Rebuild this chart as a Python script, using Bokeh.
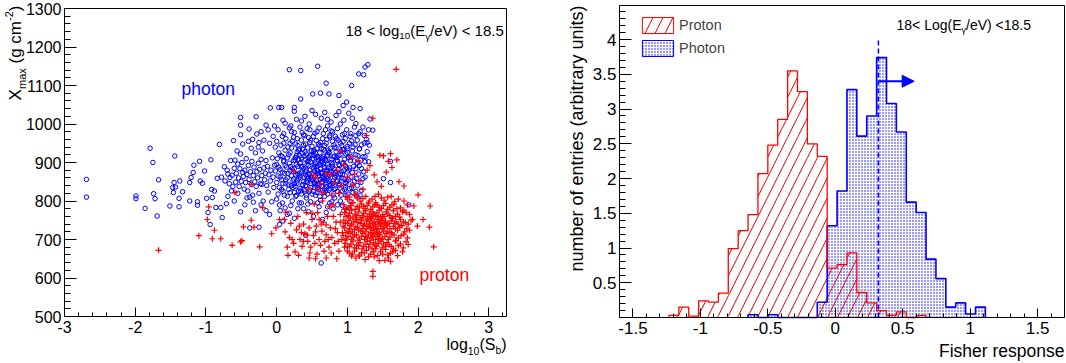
from math import pi
from bokeh.plotting import figure
from bokeh.models import (Label, FixedTicker, Legend, LegendItem, Arrow, NormalHead,
                          Range1d, CustomJSTickFormatter, LinearAxis)
from bokeh.layouts import row
from bokeh.embed import file_html
from bokeh.resources import INLINE

FONT = "Liberation Sans"

# ---------------- left panel data: photon / proton events ----------------
photon_log10Sb = [
    -2.69, -2.69, -1.99, -1.99, -1.79, -1.75, -1.74, -1.72, -1.67, -1.86,
    -1.69, -1.44, -1.47, -1.45, -1.43, -1.46, -1.51, -1.38, -1.38, -1.33,
    -1.37, -1.23, -1.23, -1.21, -1.18, -1.17, -1.12, -1.12, -1.09, -1.02,
    -1.05, -1.08, -0.99, -0.97, -0.94, -0.93, -0.92, -0.91, -0.88, -0.86,
    -0.84, -0.81, -0.79, -0.77, -0.74, -0.71, -0.69, -0.64, -0.61, -0.59,
    -0.51, -0.51, -0.51, -0.51, -0.51, -0.48, -0.39, -0.38, -0.36, -0.29,
    -0.28, -0.25, -0.38, -0.25, -0.21, -0.15, -0.09, -0.03, 0.03, 0.07,
    0.09, 0.18, 0.34, 0.58, 0.25, 0.25, 0.34, 0.51, 0.62, 0.70,
    0.74, 0.88, 1.06, 1.16, 1.23, 1.25, 1.29, 0.99, 0.94, 1.08,
    1.32, 1.36, 1.28, 1.51, 1.61, 1.61, 1.87, 0.63, 0.04, 0.41,
    0.09,
    -0.78, -0.73, -0.70, -0.67, -0.66, -0.63, -0.62, -0.60, -0.58, -0.57,
    -0.55, -0.54, -0.53, -0.52, -0.50, -0.49, -0.47, -0.46, -0.45, -0.44,
    -0.43, -0.42, -0.41, -0.40, -0.39, -0.37, -0.36, -0.35, -0.34, -0.33,
    -0.32, -0.31, -0.30, -0.29, -0.28, -0.27, -0.26, -0.25, -0.24, -0.23,
    -0.22, -0.21, -0.20, -0.19, -0.18, -0.17, -0.16, -0.15, -0.14, -0.13,
    -0.12, -0.11, -0.10, -0.09, -0.08, -0.07, -0.06, -0.05, -0.04, -0.03,
    -0.69, -0.60, -0.55, -0.45, -0.42, -0.33, -0.30, -0.22, -0.15, -0.10,
    -0.65, -0.56, -0.48, -0.40, -0.34, -0.26, -0.18, -0.12, -0.05, -0.22,
    0.12, 0.28, 0.40, 0.46, 0.55, 0.63, 0.68, 0.77, 0.84, 0.95, 1.02, 1.12, 0.20, 0.90,
    0.02, 0.10, 0.18, 0.25, 0.33, 0.38, 0.47, 0.52, 0.60, 0.66, 0.72, 0.79, 0.86, 0.93,
    0.99, 1.05, 1.10, 1.18, 1.24, 1.30,
    0.00, 0.06, 0.13, 0.19, 0.24, 0.30, 0.35, 0.41, 0.45, 0.50, 0.56, 0.61, 0.65, 0.70,
    0.75, 0.81, 0.87, 0.92, 0.97, 1.03, 1.08, 1.14, 1.20, 1.27,
    0.03, 0.08, 0.12, 0.17, 0.21, 0.26, 0.29, 0.33, 0.37, 0.42, 0.46, 0.49, 0.53, 0.57,
    0.61, 0.64, 0.68, 0.72, 0.76, 0.80, 0.84, 0.88, 0.93, 0.98, 1.02, 1.07, 1.12, 1.17,
    1.22, 1.28,
    0.00, 0.05, 0.10, 0.14, 0.18, 0.22, 0.26, 0.30, 0.34, 0.38, 0.41, 0.45, 0.48, 0.52,
    0.55, 0.59, 0.62, 0.66, 0.69, 0.73, 0.77, 0.81, 0.85, 0.89, 0.94, 0.99, 1.04, 1.09,
    1.14, 1.20, 1.25, 0.57, 0.64, 0.71,
    0.02, 0.07, 0.11, 0.15, 0.19, 0.23, 0.27, 0.31, 0.35, 0.39, 0.42, 0.46, 0.50, 0.53,
    0.56, 0.60, 0.63, 0.67, 0.70, 0.74, 0.78, 0.82, 0.86, 0.90, 0.95, 1.00, 1.05, 1.10,
    1.16, 1.22, 0.58, 0.65, 0.72, 0.48,
    0.04, 0.09, 0.13, 0.17, 0.21, 0.25, 0.29, 0.33, 0.37, 0.40, 0.44, 0.48, 0.52, 0.55,
    0.59, 0.63, 0.66, 0.70, 0.74, 0.78, 0.83, 0.88, 0.93, 0.98, 1.03, 1.08, 1.14, 1.20,
    0.60, 0.68,
    0.00, 0.08, 0.15, 0.22, 0.28, 0.35, 0.42, 0.48, 0.55, 0.62, 0.68, 0.75, 0.82, 0.90,
    0.98, 1.05, 1.15,
    0.05, 0.18, 0.30, 0.45, 0.52, 0.60, 0.70, 0.80, 0.95, 0.25, 0.65,
    0.35, 0.50, 0.72, 0.88, 1.07, 1.18,
    0.08, 0.21, 0.36, 0.43, 0.57, 0.69, 0.75, 0.83, 0.96, 1.12, 1.22,
    -0.02, 0.10, 0.16, 0.27, 0.32, 0.38, 0.47, 0.53, 0.59, 0.63, 0.68,
    0.73, 0.79, 0.84, 0.90, 0.95, 1.00, 1.06, 1.11, 1.17, 1.24, 1.31,
    0.01, 0.06, 0.10, 0.15, 0.19, 0.24, 0.28, 0.31, 0.35, 0.40, 0.44,
    0.47, 0.51, 0.55, 0.59, 0.62, 0.66, 0.70, 0.74, 0.78, 0.82, 0.86,
    0.91, 0.96, 1.00, 1.05, 1.10, 1.15, 1.19, 1.25, 1.30,
    -0.02, 0.03, 0.08, 0.12, 0.16, 0.20, 0.24, 0.28, 0.32, 0.36, 0.40,
    0.43, 0.47, 0.50, 0.54, 0.58, 0.61, 0.65, 0.68, 0.72, 0.75, 0.79,
    0.83, 0.87, 0.92, 0.97, 1.02, 1.07, 1.12, 1.17, 1.23,
    0.00, 0.05, 0.09, 0.13, 0.17, 0.21, 0.25, 0.29, 0.33, 0.37, 0.41,
    0.44, 0.48, 0.51, 0.55, 0.58, 0.62, 0.65, 0.69, 0.72, 0.76, 0.80,
    0.84, 0.88, 0.92, 0.97, 1.02, 1.07, 1.13, 1.19, 1.25,
    0.02, 0.07, 0.11, 0.19, 0.23, 0.27, 0.31, 0.35, 0.39, 0.42, 0.46,
    0.50, 0.54, 0.57, 0.61, 0.65, 0.72, 0.76, 0.80, 0.86, 0.91, 0.96,
    1.01, 1.06, 1.12, 1.18,
    0.04, 0.12, 0.20, 0.32, 0.38, 0.44, 0.58, 0.72, 0.78, 0.86, 0.93, 1.02, 0.15,
    0.31, 0.36, 0.44, 0.52, 0.58, 0.66, 0.74, 0.82, 0.91, 1.00,
    0.27, 0.33, 0.39, 0.45, 0.50, 0.56, 0.61, 0.67, 0.72, 0.79, 0.85, 0.93, 1.01,
    0.25, 0.30, 0.35, 0.42, 0.46, 0.53, 0.57, 0.63, 0.67, 0.71, 0.77, 0.81, 0.88, 0.95, 1.03,
    0.24, 0.32, 0.38, 0.43, 0.49, 0.54, 0.59, 0.64, 0.70, 0.75, 0.80, 0.87, 0.93, 0.99,
    0.26, 0.34, 0.41, 0.47, 0.53, 0.58, 0.64, 0.69, 0.75, 0.81, 0.89, 0.97,
    0.22, 0.29, 0.40, 0.48, 0.54, 0.62, 0.71, 0.77, 0.85, 0.94, 1.04, 1.16,
]
photon_Xmax = [
    856, 810, 813, 806, 937, 900, 819, 806, 855, 781,
    761, 917, 835, 848, 836, 822, 787, 807, 785, 824,
    852, 800, 848, 861, 874, 893, 798, 789, 903, 878,
    846, 852, 807, 770, 739, 907, 830, 809, 826, 783,
    859, 947, 783, 757, 889, 793, 870, 826, 957, 906,
    1017, 997, 972, 772, 922, 874, 987, 810, 937, 1019,
    974, 952, 730, 732, 843, 997, 1042, 995, 1043, 1043,
    1010, 1141, 1139, 1150, 1043, 1033, 1065, 1078, 1080, 1106,
    1078, 1074, 1100, 1130, 1128, 1148, 1154, 1057, 1048, 1043,
    1013, 984, 952, 858, 848, 903, 790, 639, 739, 711,
    748,
    862, 852, 880, 845, 861, 867, 838, 885, 849, 872,
    896, 860, 838, 884, 851, 900, 864, 831, 880, 848,
    910, 869, 826, 892, 856, 876, 843, 903, 815, 866,
    888, 850, 925, 838, 876, 860, 898, 820, 882, 845,
    908, 866, 930, 800, 886, 855, 872, 905, 840, 890,
    823, 868, 950, 852, 880, 798, 912, 862, 835, 893,
    812, 800, 820, 790, 808, 797, 775, 790, 775, 765,
    905, 930, 948, 955, 960, 940, 958, 985, 968, 980,
    1002, 1012, 1020, 1000, 1025, 1015, 1030, 1005, 1022, 1010, 1028, 1001, 995, 1000,
    985, 975, 990, 978, 992, 972, 985, 968, 990, 975, 995, 980, 988, 972,
    985, 975, 992, 980, 970, 985,
    955, 945, 962, 950, 966, 944, 958, 948, 965, 942, 957, 945, 962, 950,
    966, 946, 958, 944, 962, 950, 940, 958, 946, 960,
    925, 915, 932, 920, 938, 912, 928, 918, 935, 922, 912, 930, 918, 936,
    925, 912, 930, 920, 937, 915, 928, 918, 934, 922, 912, 930, 920, 935,
    915, 928,
    895, 882, 905, 888, 898, 884, 906, 890, 900, 884, 908, 892, 902, 886,
    898, 905, 884, 896, 908, 888, 900, 884, 906, 892, 900, 886, 905, 890,
    898, 884, 902, 890, 902, 880,
    865, 855, 872, 860, 878, 852, 868, 858, 875, 862, 852, 870, 860, 878,
    852, 866, 875, 858, 870, 855, 876, 862, 852, 870, 858, 875, 862, 852,
    870, 858, 872, 850, 864, 862,
    835, 825, 845, 830, 840, 822, 846, 832, 842, 826, 848, 835, 825, 842,
    830, 848, 822, 838, 828, 845, 832, 840, 826, 845, 832, 822, 840, 828,
    840, 832,
    805, 795, 812, 800, 815, 795, 808, 798, 815, 802, 812, 795, 808, 800,
    815, 798, 810,
    775, 768, 780, 772, 760, 785, 770, 780, 775, 755, 752,
    1008, 1035, 1012, 1032, 1015, 1040,
    968, 980, 978, 988, 980, 985, 970, 968, 975, 970, 992,
    940, 950, 940, 948, 935, 945, 952, 932, 948, 936, 944,
    932, 955, 938, 950, 934, 942, 956, 946, 936, 950, 945,
    910, 918, 902, 912, 925, 905, 918, 908, 912, 928, 902,
    918, 910, 924, 912, 900, 915, 904, 925, 908, 916, 904,
    920, 908, 926, 915, 904, 918, 906, 915, 902,
    878, 888, 875, 892, 872, 890, 876, 895, 872, 890, 876,
    895, 880, 872, 890, 878, 894, 872, 886, 896, 875, 890,
    872, 882, 876, 892, 880, 874, 884, 892, 876,
    848, 862, 845, 855, 842, 866, 845, 852, 862, 842, 868,
    858, 845, 855, 866, 845, 856, 864, 846, 858, 842, 852,
    866, 845, 860, 848, 855, 842, 858, 848, 862,
    818, 830, 815, 822, 835, 812, 826, 818, 830, 815, 825,
    818, 835, 822, 812, 828, 818, 832, 815, 825, 815, 830,
    818, 835, 825, 815,
    790, 782, 788, 795, 780, 792, 795, 785, 798, 790, 788, 782, 765,
    932, 924, 938, 928, 916, 934, 926, 940, 930, 936,
    913, 898, 916, 905, 920, 912, 894, 910, 917, 896, 913, 897, 914,
    884, 870, 888, 880, 869, 894, 880, 872, 889, 876, 886, 870, 895, 880, 886,
    857, 866, 850, 864, 856, 848, 872, 860, 853, 868, 846, 860, 869, 852,
    838, 826, 840, 829, 846, 834, 838, 825, 840, 830, 844, 836,
    955, 962, 970, 958, 976, 952, 960, 982, 962, 955, 968, 975,
]

proton_log10Sb = [
    -1.67, -1.10, -0.98, -0.96, -0.91, -0.88, -0.79, -0.63, -0.59, -0.51,
    -0.49, -0.47, -0.36, -0.36, -0.32, -0.24, -0.20, -0.07, -0.01, 0.04,
    0.11, 0.13, 0.16, 0.24, 0.31, 0.46, 0.55, 0.70, 0.85, 1.06,
    1.17, 1.36, 1.36, 1.53, 1.61, 1.70, 1.69, 1.36, 1.27, 1.46,
    1.61, 2.00, 2.17, 2.16, 2.22, 2.07, 1.99, 1.86, 1.92, 1.94,
    1.80, 1.73, 1.63, 1.51, 1.58,
    0.52, 0.55, 0.62, 0.70, 0.76, 0.85, 0.90, 0.95, 1.00, 1.05,
    1.10, 1.15, 0.82, 0.92, 1.08, 1.18, 1.22, 1.28, 1.32, 1.38,
    0.66, 0.78, 0.88, 0.98, 1.12, 0.45, 0.58, 1.42, 1.48, 1.55,
    0.12, 0.18, 0.20, 0.24, 0.28, 0.30, 0.33, 0.36, 0.38, 0.40,
    0.42, 0.44, 0.46, 0.48, 0.50, 0.52, 0.54, 0.56, 0.58, 0.60,
    0.62, 0.64, 0.66, 0.68, 0.70, 0.72, 0.74, 0.76, 0.78, 0.80,
    0.82, 0.84, 0.86, 0.88, 0.90, 0.92, 0.94, 0.96, 0.98, 0.15,
    0.26, 0.35, 0.47, 0.57, 0.67, 0.77, 0.87, 0.53, 0.65, 0.75,
    1.00, 1.10, 1.18, 1.26, 1.35, 1.44, 1.52, 1.62, 1.72, 1.05, 1.40, 1.80,
    0.95, 1.02, 1.08, 1.14, 1.20, 1.25, 1.30, 1.36, 1.42, 1.48, 1.54, 1.60, 1.66, 1.75, 1.85,
    0.96, 1.01, 1.06, 1.11, 1.16, 1.21, 1.26, 1.31, 1.35, 1.40, 1.45, 1.50, 1.55, 1.60,
    1.65, 1.71, 1.78, 1.88,
    0.95, 1.00, 1.04, 1.09, 1.13, 1.18, 1.22, 1.27, 1.31, 1.34, 1.38, 1.42, 1.46, 1.50,
    1.54, 1.59, 1.64, 1.69, 1.75, 1.82, 1.90, 1.36, 1.44,
    0.96, 1.01, 1.05, 1.10, 1.14, 1.19, 1.23, 1.27, 1.31, 1.35, 1.39, 1.43, 1.47, 1.51,
    1.55, 1.60, 1.65, 1.71, 1.77, 1.84, 1.33, 1.41, 1.49,
    0.94, 0.99, 1.04, 1.08, 1.13, 1.17, 1.22, 1.26, 1.30, 1.34, 1.38, 1.42, 1.46, 1.50,
    1.55, 1.60, 1.66, 1.72, 1.80, 1.36, 1.44,
    0.97, 1.03, 1.08, 1.13, 1.18, 1.23, 1.28, 1.32, 1.37, 1.41, 1.46, 1.51, 1.56, 1.62,
    1.68, 1.75, 1.83,
    1.00, 1.07, 1.13, 1.20, 1.27, 1.33, 1.40, 1.47, 1.54, 1.61, 1.68, 1.78,
    1.12, 1.25, 1.38, 1.45, 1.58,
    1.03, 1.14, 1.22, 1.31, 1.39, 1.48, 1.57, 1.67,
    0.98, 1.05, 1.11, 1.17, 1.23, 1.28, 1.33, 1.39, 1.45, 1.51, 1.57, 1.63, 1.70, 1.80,
    0.98, 1.03, 1.08, 1.13, 1.18, 1.23, 1.28, 1.33, 1.37, 1.42, 1.47, 1.52, 1.57, 1.62,
    1.68, 1.74, 1.83,
    0.97, 1.02, 1.06, 1.11, 1.15, 1.20, 1.24, 1.29, 1.32, 1.36, 1.40, 1.44, 1.48, 1.52,
    1.57, 1.62, 1.67, 1.72, 1.79, 1.86,
    0.98, 1.03, 1.07, 1.12, 1.16, 1.21, 1.25, 1.29, 1.33, 1.37, 1.41, 1.45, 1.49, 1.53,
    1.57, 1.62, 1.68, 1.74, 1.81, 1.88,
    0.97, 1.01, 1.06, 1.10, 1.15, 1.20, 1.24, 1.28, 1.32, 1.36, 1.40, 1.44, 1.48, 1.53,
    1.58, 1.63, 1.69, 1.76, 1.85,
    1.00, 1.05, 1.10, 1.16, 1.21, 1.26, 1.30, 1.35, 1.39, 1.44, 1.49, 1.54, 1.59, 1.65,
    1.72, 1.79,
    1.03, 1.10, 1.17, 1.24, 1.30, 1.37, 1.43, 1.50, 1.57, 1.64, 1.71,
    0.22, 0.32, 0.43, 0.55, 0.63, 0.73, 0.83, 0.93, 0.38, 0.50, 0.60, 0.70, 0.80, 0.90,
]
proton_Xmax = [
    672, 710, 752, 785, 702, 724, 702, 685, 822, 694,
    697, 733, 843, 750, 732, 681, 783, 715, 730, 752,
    752, 771, 659, 877, 659, 652, 650, 652, 650, 657,
    657, 617, 604, 646, 643, 907, 1142, 1015, 970, 919,
    923, 816, 787, 732, 681, 752, 735, 687, 752, 787,
    839, 850, 887, 917, 903,
    868, 860, 845, 872, 868, 880, 930, 895, 862, 915,
    870, 905, 848, 840, 842, 852, 830, 880, 892, 868,
    822, 815, 820, 812, 818, 830, 830, 850, 838, 875,
    720, 705, 742, 690, 725, 760, 700, 682, 740, 715,
    770, 695, 730, 680, 752, 710, 690, 735, 770, 700,
    685, 722, 745, 695, 712, 760, 680, 730, 705, 790,
    690, 745, 718, 670, 765, 700, 735, 680, 780, 680,
    668, 718, 665, 662, 670, 665, 695, 792, 800, 785,
    805, 815, 800, 812, 805, 818, 802, 812, 805, 795, 795, 800,
    790, 782, 796, 786, 792, 780, 795, 785, 790, 780, 794, 784, 792, 782, 790,
    770, 762, 776, 766, 772, 762, 775, 766, 772, 762, 776, 765, 772, 762,
    775, 766, 772, 765,
    750, 742, 756, 746, 752, 742, 756, 748, 740, 755, 746, 752, 742, 756,
    748, 742, 754, 746, 752, 744, 750, 760, 760,
    730, 722, 736, 726, 732, 722, 736, 728, 734, 724, 738, 728, 734, 722,
    736, 728, 734, 724, 736, 728, 730, 720, 740,
    710, 702, 716, 706, 712, 702, 716, 708, 714, 704, 716, 708, 712, 702,
    716, 706, 712, 704, 714, 712, 702,
    690, 682, 696, 686, 692, 682, 696, 688, 692, 682, 696, 688, 692, 682,
    696, 688, 694,
    670, 662, 676, 666, 672, 662, 676, 668, 674, 664, 672, 668,
    652, 648, 655, 645, 652,
    810, 808, 806, 800, 812, 808, 810, 798,
    778, 788, 778, 782, 786, 788, 778, 790, 784, 788, 778, 790, 780, 776,
    760, 768, 758, 762, 756, 768, 760, 758, 766, 770, 758, 760, 766, 756,
    760, 758, 770,
    742, 750, 740, 752, 744, 750, 740, 752, 748, 742, 738, 746, 750, 744,
    740, 748, 742, 740, 746, 740,
    718, 728, 720, 732, 724, 728, 720, 734, 718, 730, 726, 718, 728, 732,
    720, 718, 728, 732, 720, 724,
    698, 708, 700, 712, 698, 708, 700, 704, 698, 708, 700, 714, 700, 708,
    700, 714, 698, 710, 704,
    680, 688, 678, 684, 676, 688, 680, 676, 686, 690, 678, 682, 686, 676,
    684, 678,
    665, 670, 660, 665, 655, 668, 658, 662, 660, 668, 658,
    700, 735, 712, 720, 740, 700, 728, 718, 695, 768, 752, 738, 760, 745,
]

# ---------------- right panel data: Fisher response histograms ----------------
hist_min, hist_max, n_bins = -1.6, 1.7, 45
proton_counts = [
    0, 0, 0, 0, 0, 0.03, 0.15, 0.02, 0.24, 0.22,
    0.35, 0.99, 1.25, 1.48, 2.07, 2.48, 2.85, 3.55, 3.25, 2.50,
    2.32, 0.71, 0.76, 0.93, 0.36, 0.21, 0.10, 0.03, 0.08, 0.0,
    0.03, 0, 0, 0, 0, 0, 0, 0, 0, 0,
    0, 0, 0, 0, 0,
]
photon_counts = [
    0, 0, 0, 0, 0, 0, 0, 0, 0, 0,
    0, 0, 0, 0.04, 0, 0.04, 0, 0, 0, 0,
    0.22, 1.32, 1.82, 3.28, 2.61, 2.90, 3.74, 3.08, 2.67, 1.66,
    1.51, 0.84, 0.56, 0.15, 0.21, 0.05, 0.15, 0, 0, 0,
    0, 0, 0, 0, 0,
]
fisher_cut = 0.32
cut_line_top = 4.02
arrow_y = 3.40
arrow_end = 0.585

# ---------------- helpers ----------------
ARIAL = {" ": .278, "(": .333, ")": .333, "-": .333, ".": .278, "/": .278, "<": .584, ">": .584,
         "E": .667, "L": .556, "S": .667, "V": .667, "X": .667, "F": .611, "P": .667,
         "a": .556, "b": .556, "c": .5, "e": .556, "f": .278, "g": .556, "h": .556, "i": .222,
         "l": .222, "m": .833, "n": .556, "o": .556, "p": .556, "r": .333, "s": .5, "t": .278,
         "u": .556, "x": .5, "y": .5, "γ": .5}


def text_w(s, size):
    return sum(ARIAL.get(c, 0.556) for c in s) * size


def rich_text(fig, box, px, py, parts, size, color="black", align="left", vertical=False):
    """Place text made of normal/sub/sup pieces; px, py are canvas pixel coords."""
    x0, y0, fl, fb = box
    sizes = [size * (0.65 if m != "n" else 1.0) for _, m in parts]
    widths = [text_w(t, s) for (t, _), s in zip(parts, sizes)]
    total = sum(widths)
    pos = {"left": 0.0, "right": -total, "center": -total / 2}[align]
    for (t, m), s, w in zip(parts, sizes, widths):
        shift = {"n": 0.0, "b": 0.38 * size, "p": -0.38 * size}[m]
        stripped = t.lstrip(" ")
        lead = text_w(" " * (len(t) - len(stripped)), s)
        p0 = pos + lead
        if vertical:
            xo, yo, ang = (px - fl) + shift, (fb - py) + p0, pi / 2
        else:
            xo, yo, ang = (px - fl) + p0, (fb - py) - shift, 0.0
        fig.add_layout(Label(x=x0, y=y0, x_offset=xo, y_offset=yo, text=stripped, angle=ang,
                             text_font=FONT, text_font_size=f"{s:.1f}px", text_color=color,
                             text_align="left", text_baseline="middle"))
        pos += w


def span(lo, hi, px_lo, px_hi, size):
    """Range whose [lo, hi] lands on canvas pixels [px_lo, px_hi]."""
    k = (px_hi - px_lo) / (hi - lo)
    return Range1d(lo - px_lo / k, hi + (size - px_hi) / k)


fmt = CustomJSTickFormatter(code="return String(Math.round(tick*1000)/1000);")


def add_axes(fig, xlo, xhi, ylo, yhi, xticks, xminor, yticks, yminor, fs, xin, xmin_in, yin, ymin_in):
    def base(ax):
        ax.axis_line_color = "black"
        ax.axis_line_width = 1
        ax.major_tick_line_color = "black"
        ax.minor_tick_line_color = "black"
        ax.major_tick_out = 0
        ax.minor_tick_out = 0
        ax.major_label_text_font = FONT
        ax.major_label_text_font_size = f"{fs}px"
        ax.major_label_text_color = "black"
        ax.formatter = fmt
    bx = LinearAxis(fixed_location=ylo, bounds=(xlo, xhi),
                    ticker=FixedTicker(ticks=xticks, minor_ticks=xminor))
    base(bx)
    bx.major_tick_in, bx.minor_tick_in, bx.major_label_standoff = xin, xmin_in, 4
    fig.add_layout(bx, "below")
    ly = LinearAxis(fixed_location=xlo, bounds=(ylo, yhi),
                    ticker=FixedTicker(ticks=yticks, minor_ticks=yminor))
    base(ly)
    ly.major_tick_in, ly.minor_tick_in, ly.major_label_standoff = yin, ymin_in, 3
    fig.add_layout(ly, "left")
    tx = LinearAxis(fixed_location=yhi, bounds=(xlo, xhi), ticker=FixedTicker(ticks=[]))
    base(tx)
    fig.add_layout(tx, "above")
    ry = LinearAxis(fixed_location=xhi, bounds=(ylo, yhi), ticker=FixedTicker(ticks=[]))
    base(ry)
    fig.add_layout(ry, "right")


def make_fig(w, h, xr, yr):
    f = figure(width=w, height=h, x_range=xr, y_range=yr, output_backend="svg",
               toolbar_location=None, title=None, x_axis_type=None, y_axis_type=None,
               min_border=0)
    f.outline_line_color = None
    f.xgrid.visible = False
    f.ygrid.visible = False
    return f


# ---------------- left panel ----------------
LW, LH = 530, 363
L_l, L_r, L_t, L_b = 64, 506, 8, 316
lx0, lx1, ly0, ly1 = -3, 3.25, 500, 1300
p1 = make_fig(LW, LH, span(lx0, lx1, L_l, L_r, LW), span(ly0, ly1, LH - L_b, LH - L_t, LH))
add_axes(p1, lx0, lx1, ly0, ly1, list(range(-3, 4)), [round(-3 + 0.2 * i, 2) for i in range(32)],
         list(range(500, 1301, 100)), list(range(500, 1301, 20)), 16, 9, 4, 12, 6)

n_ph = min(len(photon_log10Sb), len(photon_Xmax))
n_pr = min(len(proton_log10Sb), len(proton_Xmax))
p1.scatter(photon_log10Sb[:n_ph], photon_Xmax[:n_ph], marker="circle", size=4.5,
           fill_color=None, line_color="#0000ff", line_width=1)
p1.scatter(proton_log10Sb[:n_pr], proton_Xmax[:n_pr], marker="cross", size=6,
           line_color="#ff0000", line_width=1.2)

b1 = (lx0, ly0, L_l, L_b)
rich_text(p1, b1, 15, 5, [("X", "n"), ("max", "b"), (" (g cm", "n"), ("-2", "p"), (")", "n")],
          17, align="right", vertical=True)
rich_text(p1, b1, L_r, 344, [("log", "n"), ("10", "b"), ("(S", "n"), ("b", "b"), (")", "n")],
          16, align="right")
rich_text(p1, b1, 345, 30, [("18 < log", "n"), ("10", "b"), ("(E", "n"), ("γ", "b"),
                             ("/eV) < 18.5", "n")], 15)
rich_text(p1, b1, 181, 88, [("photon", "n")], 17.5, color="#0000ff")
rich_text(p1, b1, 419, 274, [("proton", "n")], 17.5, color="#ff0000")

# ---------------- right panel ----------------
RW, RH = 536, 363
R_l, R_r, R_t, R_b = 89, 534, 5, 317
ry0, ry1 = 0, 4.49
p2 = make_fig(RW, RH, span(hist_min, hist_max, R_l, R_r, RW), span(ry0, ry1, RH - R_b, RH - R_t, RH))

bw = (hist_max - hist_min) / n_bins
edges = [hist_min + i * bw for i in range(n_bins + 1)]


def step_outline(counts):
    nz = [i for i, c in enumerate(counts) if c > 0]
    first, last = nz[0], nz[-1]
    xs, ys = [edges[first]], [0.0]
    for i in range(first, last + 1):
        xs += [edges[i], edges[i + 1]]
        ys += [counts[i], counts[i]]
    xs.append(edges[last + 1])
    ys.append(0.0)
    return xs, ys


DOT = dict(hatch_pattern="dot", hatch_color="#0000ff", hatch_scale=3, hatch_weight=0.5)
DIAG = dict(hatch_pattern="right_diagonal_line", hatch_color="#ff0000", hatch_scale=20,
            hatch_weight=1)

p2.quad(left=edges[:-1], right=edges[1:], bottom=0, top=photon_counts,
        fill_alpha=0, line_color=None, **DOT)
p2.quad(left=edges[:-1], right=edges[1:], bottom=0, top=proton_counts,
        fill_alpha=0, line_color=None, **DIAG)
bx, by = step_outline(photon_counts)
p2.line(bx, by, line_color="#0000ff", line_width=1.6)
rx, ry = step_outline(proton_counts)
p2.line(rx, ry, line_color="#ff0000", line_width=1.3)

p2.line([fisher_cut, fisher_cut], [0, cut_line_top], line_color="#0000ff", line_width=1.5,
        line_dash="5 3")
p2.add_layout(Arrow(end=NormalHead(size=12, fill_color="#0000ff", line_color="#0000ff"),
                    x_start=fisher_cut, y_start=arrow_y, x_end=arrow_end, y_end=arrow_y,
                    line_color="#0000ff", line_width=2))

add_axes(p2, hist_min, hist_max, ry0, ry1, [-1.5, -1.0, -0.5, 0.0, 0.5, 1.0, 1.5],
         [round(-1.6 + 0.1 * i, 2) for i in range(34)],
         [0.5, 1.0, 1.5, 2.0, 2.5, 3.0, 3.5, 4.0], [round(0.1 * i, 2) for i in range(45)],
         17, 9, 4, 12, 6)

# legend swatches: hidden copies of the histograms carrying the outline style
lg_pr = p2.quad(left=edges[:-1], right=edges[1:], bottom=0, top=proton_counts, fill_alpha=0,
                line_color="#ff0000", line_width=1, visible=False, **DIAG)
lg_ph = p2.quad(left=edges[:-1], right=edges[1:], bottom=0, top=photon_counts, fill_alpha=0,
                line_color="#0000ff", line_width=1, visible=False, **DOT)
legend = Legend(items=[LegendItem(label="Proton", renderers=[lg_pr]),
                       LegendItem(label="Photon", renderers=[lg_ph])],
                location=(R_l + 19, (RH - R_b) + 259), glyph_width=39, glyph_height=20,
                label_height=20, spacing=3, padding=0, margin=0, label_standoff=2,
                label_text_font=FONT, label_text_font_size="14.5px",
                border_line_color=None, background_fill_alpha=0, inactive_fill_alpha=0)
p2.add_layout(legend)

b2 = (hist_min, ry0, R_l, R_b)
rich_text(p2, b2, 46, 5, [("number of entries (arbitrary units)", "n")], 18,
          align="right", vertical=True)
rich_text(p2, b2, R_r, 350, [("Fisher response", "n")], 17.5, align="right")
rich_text(p2, b2, 366, 24, [("18< Log(E", "n"), ("γ", "b"), ("/eV) <18.5", "n")], 14)

layout = row(p1, p2)
open("out.html", "w").write(file_html(layout, INLINE))
